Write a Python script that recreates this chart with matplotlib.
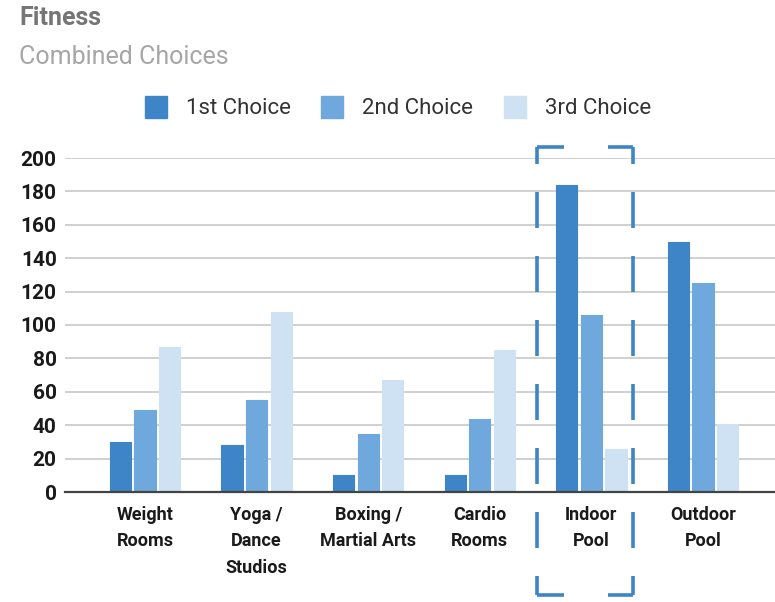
import numpy as np
import matplotlib
matplotlib.use("Agg")
import matplotlib.pyplot as plt
from matplotlib.lines import Line2D

plt.rcParams["font.family"] = ["Roboto", "DejaVu Sans"]

categories = ["Weight\nRooms", "Yoga /\nDance\nStudios", "Boxing /\nMartial Arts",
              "Cardio\nRooms", "Indoor\nPool", "Outdoor\nPool"]
series_names = ["1st Choice", "2nd Choice", "3rd Choice"]
first_choice = [30, 28, 10, 10, 184, 150]
second_choice = [49, 55, 35, 44, 106, 125]
third_choice = [87, 108, 67, 85, 26, 41]
colors = ["#3d85c6", "#6fa8dc", "#cfe2f3"]
yticks = [0, 20, 40, 60, 80, 100, 120, 140, 160, 180, 200]

W, H = 775, 602
fig = plt.figure(figsize=(W / 100, H / 100), dpi=100)
ax = fig.add_axes([65 / W, (H - 492) / H, 710 / W, (492 - 158) / H])

x = np.arange(len(categories))
bw = 0.19
step = 0.22
for i, (vals, c) in enumerate(zip([first_choice, second_choice, third_choice], colors)):
    ax.bar(x + (i - 1) * step, vals, width=bw, color=c, edgecolor=c, linewidth=0.8,
           joinstyle="round", zorder=3)

ax.set_xlim(-0.717, 5.645)
ax.set_ylim(0, 200)
ax.set_yticks(yticks)
ax.set_yticklabels([str(v) for v in yticks], fontsize=15, fontweight="bold", color="#1a1a1a")
ax.set_xticks(x)
ax.set_xticklabels(categories, fontsize=13, fontweight="bold", color="#1a1a1a", linespacing=1.6)
ax.tick_params(axis="both", length=0)
ax.tick_params(axis="y", pad=6)
ax.tick_params(axis="x", pad=10)
ax.grid(axis="y", color="#d0d0d0", linewidth=1.4, zorder=0)
for s in ["top", "right", "left"]:
    ax.spines[s].set_visible(False)
ax.spines["bottom"].set_color("#444444")
ax.spines["bottom"].set_linewidth(1.6)
ax.spines["bottom"].set_zorder(4)

# title / subtitle
fig.text(19 / W, 1 - 18 / H, "Fitness", fontsize=18, fontweight="bold", color="#757575", va="center")
fig.text(19 / W, 1 - 57 / H, "Combined Choices", fontsize=18, color="#a6a6a6", va="center")

# legend
handles = [Line2D([], [], marker="s", linestyle="none", markersize=15.5, color=c) for c in colors]
fig.legend(handles, series_names, loc="center", bbox_to_anchor=(398 / W, 1 - 109 / H), ncol=3,
           frameon=False, fontsize=16, handlelength=1.0, handletextpad=0.85, columnspacing=1.35,
           labelcolor="#333333")

# dashed highlight box around Indoor Pool
bx0, bx1, by0, by1 = 537, 633, 147, 595
box_color = "#3d85c6"
lw = 2.6
px = 0.72 / lw  # pixels -> dash units (dashes scale with linewidth)


def seg(xa, ya, xb, yb, on, off, offset):
    ln = Line2D([xa / W, xb / W], [1 - ya / H, 1 - yb / H], transform=fig.transFigure,
                color=box_color, linewidth=lw, dash_capstyle="butt",
                linestyle=(offset * px, (on * px, off * px)))
    fig.add_artist(ln)


# vertical sides: short dash at each corner, then regular dashes
seg(bx0, by0, bx0, by1, 36, 28, 19)
seg(bx1, by0, bx1, by1, 36, 28, 19)
# horizontal sides: corner dashes with a gap in the middle
seg(bx0, by0, bx1, by0, 27, 44, 0)
seg(bx0, by1, bx1, by1, 27, 44, 0)

fig.savefig("out.png", dpi=100)
